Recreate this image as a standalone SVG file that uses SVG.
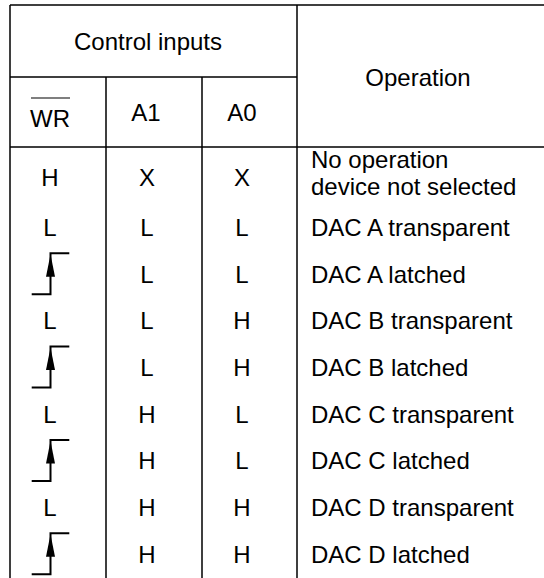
<svg xmlns="http://www.w3.org/2000/svg" width="544" height="578" viewBox="0 0 544 578">
<defs>
<style>
.t{font-family:"Liberation Sans",Arial,sans-serif;font-size:24px;fill:#000}
.c{text-anchor:middle}
.g{stroke:#000;stroke-width:1.5;fill:none}
.e{stroke:#000;stroke-width:2;fill:none}
</style>
<symbol id="edge" overflow="visible">
<path class="e" d="M31.7 41 H50.5 V0 H69.3"/>
<polygon points="50.5,1 46,23.5 55,23.5" fill="#000"/>
</symbol>
</defs>
<rect width="544" height="578" fill="#fff"/>
<g id="grid">
<path class="g" d="M10 5 H544 M10 77 H297 M10 147 H544 M10 5 V578 M106 77 V578 M202 77 V578 M297 5 V578"/>
</g>
<g id="header">
<text class="t c" x="148" y="50">Control inputs</text>
<text class="t c" x="418" y="86">Operation</text>
<text class="t c" x="50" y="127">WR</text>
<line x1="31" y1="98" x2="70" y2="98" stroke="#000" stroke-width="1.2"/>
<text class="t c" x="146" y="121">A1</text>
<text class="t c" x="242" y="121">A0</text>
</g>
<g id="row1">
<text class="t c" x="50" y="185.5">H</text>
<text class="t c" x="147" y="185.5">X</text>
<text class="t c" x="242" y="185.5">X</text>
<text class="t" x="311" y="168">No operation</text>
<text class="t" x="311" y="195">device not selected</text>
</g>
<g id="row2">
<text class="t c" x="50" y="236">L</text>
<text class="t c" x="147" y="236">L</text>
<text class="t c" x="242" y="236">L</text>
<text class="t" x="311" y="236">DAC A transparent</text>
</g>
<g id="row3">
<use href="#edge" x="0" y="253.3"/>
<text class="t c" x="147" y="282.7">L</text>
<text class="t c" x="242" y="282.7">L</text>
<text class="t" x="311" y="282.7">DAC A latched</text>
</g>
<g id="row4">
<text class="t c" x="50" y="329.3">L</text>
<text class="t c" x="147" y="329.3">L</text>
<text class="t c" x="242" y="329.3">H</text>
<text class="t" x="311" y="329.3">DAC B transparent</text>
</g>
<g id="row5">
<use href="#edge" x="0" y="346.6"/>
<text class="t c" x="147" y="376">L</text>
<text class="t c" x="242" y="376">H</text>
<text class="t" x="311" y="376">DAC B latched</text>
</g>
<g id="row6">
<text class="t c" x="50" y="422.7">L</text>
<text class="t c" x="147" y="422.7">H</text>
<text class="t c" x="242" y="422.7">L</text>
<text class="t" x="311" y="422.7">DAC C transparent</text>
</g>
<g id="row7">
<use href="#edge" x="0" y="440"/>
<text class="t c" x="147" y="469.3">H</text>
<text class="t c" x="242" y="469.3">L</text>
<text class="t" x="311" y="469.3">DAC C latched</text>
</g>
<g id="row8">
<text class="t c" x="50" y="516">L</text>
<text class="t c" x="147" y="516">H</text>
<text class="t c" x="242" y="516">H</text>
<text class="t" x="311" y="516">DAC D transparent</text>
</g>
<g id="row9">
<use href="#edge" x="0" y="533.3"/>
<text class="t c" x="147" y="562.7">H</text>
<text class="t c" x="242" y="562.7">H</text>
<text class="t" x="311" y="562.7">DAC D latched</text>
</g>
</svg>
